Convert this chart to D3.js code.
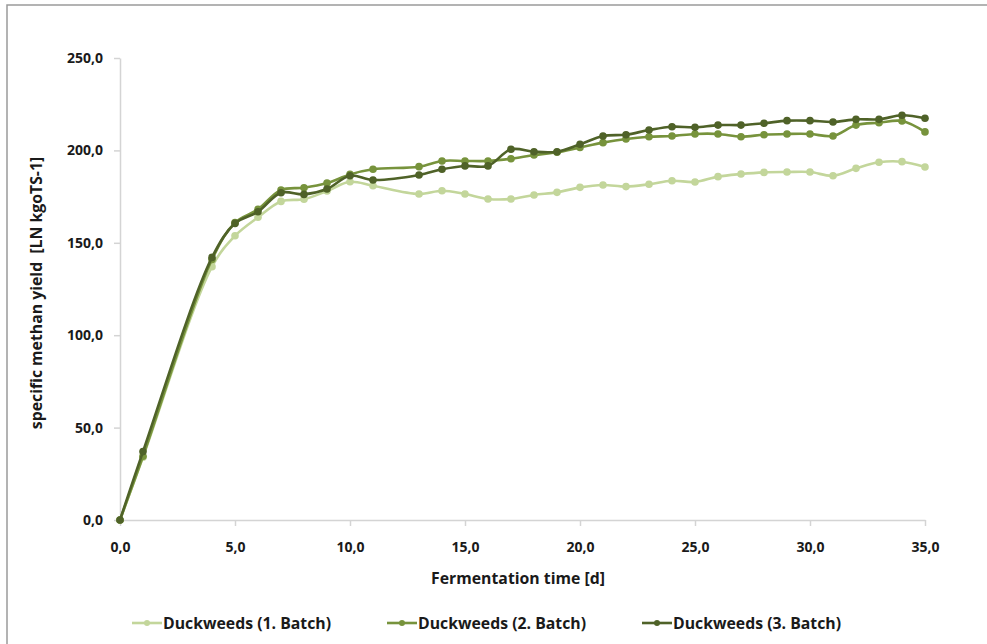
<!DOCTYPE html>
<html>
<head>
<meta charset="utf-8">
<script src="https://cdn.jsdelivr.net/npm/d3@7"></script>
<style>
  html, body { margin: 0; padding: 0; background: #fff; }
  svg { display: block; }
  text { font-family: "Open Sans", Lato, sans-serif; font-weight: bold; fill: #1a1a1a; white-space: pre; }
</style>
</head>
<body>
<svg id="chart" width="987" height="644"></svg>
<script>
// Fermentation days at which the yield was measured
const days = [0, 1, 4, 5, 6, 7, 8, 9, 10, 11, 13, 14, 15, 16, 17, 18, 19, 20, 21, 22, 23, 24, 25, 26, 27, 28, 29, 30, 31, 32, 33, 34, 35];

// Specific methane yield per batch [LN kgoTS-1]
const batch1 = [0, 34, 137.1, 153.8, 163.8, 172.4, 173.6, 178.0, 183.0, 180.9, 176.4, 178.2, 176.4, 173.7, 173.7, 175.9, 177.3, 180.0, 181.3, 180.4, 181.7, 183.6, 182.9, 185.8, 187.2, 188.1, 188.3, 188.3, 186.3, 190.3, 193.6, 193.9, 191.0];
const batch2 = [0, 34.5, 141, 160.9, 168.1, 178.6, 179.8, 182.3, 187.0, 189.8, 191.2, 194.3, 194.3, 194.3, 195.5, 197.5, 199.0, 201.6, 204.2, 206.2, 207.4, 207.8, 208.9, 208.9, 207.4, 208.5, 208.9, 208.9, 207.8, 213.7, 215.0, 215.9, 210.0];
const batch3 = [0, 37, 142.1, 160.5, 166.8, 177.1, 176.2, 179.1, 186.3, 184.0, 186.7, 189.8, 191.6, 191.6, 200.6, 199.3, 199.3, 203.3, 207.8, 208.5, 211.0, 212.8, 212.5, 213.7, 213.7, 214.7, 216.1, 216.1, 215.4, 216.8, 216.8, 219.0, 217.4];

const seriesNames = ["Duckweeds (1. Batch)", "Duckweeds (2. Batch)", "Duckweeds (3. Batch)"];
const seriesColors = ["#c3d69b", "#77933c", "#4f6228"];

const xTicks = [0, 5, 10, 15, 20, 25, 30, 35];
const yTicks = [0, 50, 100, 150, 200, 250];

const xTitle = "Fermentation time [d]";
const yTitle = "specific methan yield  [LN kgoTS-1]";

const series = [batch1, batch2, batch3].map((vals, i) => ({
  name: seriesNames[i],
  color: seriesColors[i],
  points: days.map((d, j) => ({ x: d, y: vals[j] }))
}));

const svg = d3.select("#chart");
const margin = { left: 120, right: 62, top: 58, bottom: 124 };
const W = 987, H = 644;
const labelSize = 15.8;

// outer frame (top and left edges)
svg.append("path")
  .attr("d", `M7,${H} V5 H${W}`)
  .attr("fill", "none")
  .attr("stroke", "#9a9a9a")
  .attr("stroke-width", 1.5);

const x = d3.scaleLinear().domain([0, 35]).range([margin.left, W - margin.right]);
const y = d3.scaleLinear().domain([0, 250]).range([H - margin.bottom, margin.top]);

const fmt = v => d3.format(".1f")(v).replace(".", ",");

const axisColor = "#d4d4d4";

const gx = svg.append("g")
  .attr("transform", `translate(0,${y(0)})`)
  .call(d3.axisBottom(x).tickValues(xTicks).tickFormat(fmt).tickSize(6).tickSizeOuter(0).tickPadding(16));
const gy = svg.append("g")
  .attr("transform", `translate(${x(0)},0)`)
  .call(d3.axisLeft(y).tickValues(yTicks).tickFormat(fmt).tickSize(6).tickSizeOuter(0).tickPadding(11));

[gx, gy].forEach(g => {
  g.select(".domain").attr("stroke", axisColor).attr("stroke-width", 1.5);
  g.selectAll(".tick line").attr("stroke", axisColor).attr("stroke-width", 1.5);
  g.selectAll(".tick text").attr("font-size", 14).attr("font-family", null).attr("fill", "#1a1a1a");
});

// axis titles
svg.append("text")
  .attr("x", 518).attr("y", 584)
  .attr("text-anchor", "middle")
  .attr("font-size", labelSize)
  .text(xTitle);

svg.append("text")
  .attr("transform", `translate(42,293) rotate(-90)`)
  .attr("text-anchor", "middle")
  .attr("font-size", labelSize)
  .text(yTitle);

// series lines and markers
const line = d3.line()
  .x(d => x(d.x))
  .y(d => y(d.y))
  .curve(d3.curveCatmullRom.alpha(0.5));

const gs = svg.append("g").selectAll("g").data(series).join("g");
gs.append("path")
  .attr("d", d => line(d.points))
  .attr("fill", "none")
  .attr("stroke", d => d.color)
  .attr("stroke-width", 2.6)
  .attr("stroke-linejoin", "round");
gs.selectAll("circle")
  .data(d => d.points.map(p => ({ ...p, color: d.color })))
  .join("circle")
  .attr("cx", d => x(d.x))
  .attr("cy", d => y(d.y))
  .attr("r", 3.8)
  .attr("fill", d => d.color);

// legend
const legend = svg.append("g").selectAll("g").data(series).join("g")
  .attr("transform", (d, i) => `translate(${132 + i * 255},623)`);
legend.append("line")
  .attr("x1", 0).attr("x2", 30).attr("y1", 0).attr("y2", 0)
  .attr("stroke", d => d.color).attr("stroke-width", 2.6);
legend.append("circle")
  .attr("cx", 15).attr("cy", 0).attr("r", 3)
  .attr("fill", d => d.color);
legend.append("text")
  .attr("x", 31).attr("y", 5.5)
  .attr("font-size", labelSize)
  .text(d => d.name);
</script>
</body>
</html>
